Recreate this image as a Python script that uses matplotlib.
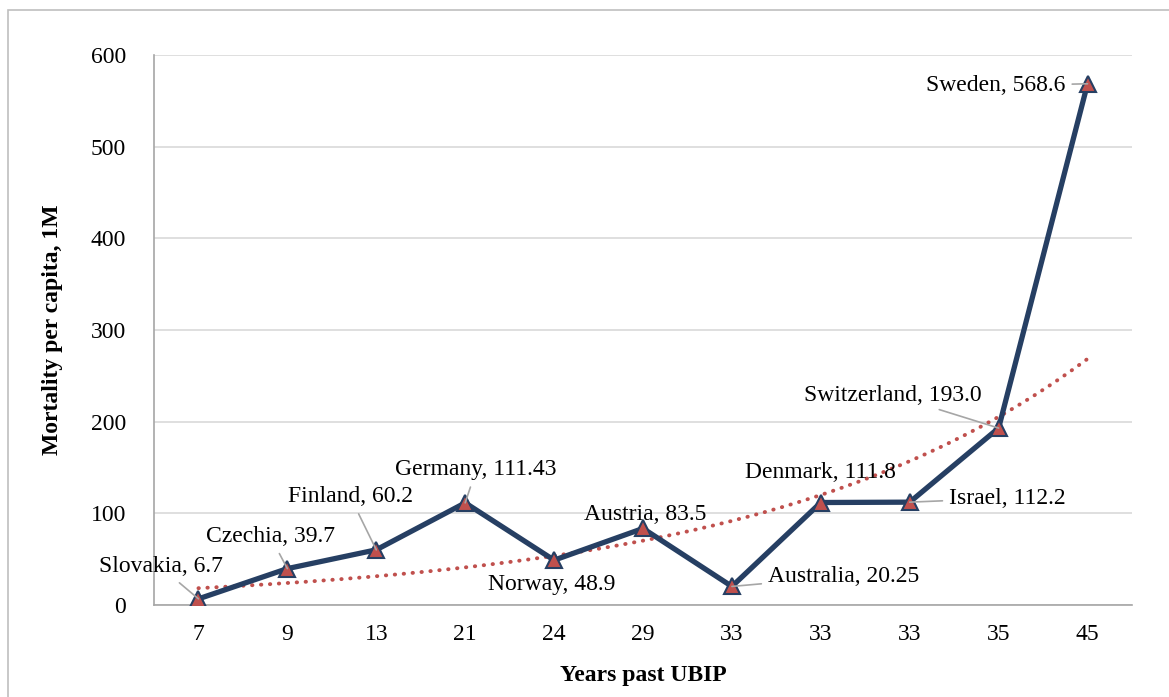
import matplotlib
matplotlib.use("Agg")
import matplotlib.pyplot as plt
from matplotlib.patches import Rectangle
import numpy as np

# data
years = ["7", "9", "13", "21", "24", "29", "33", "33", "33", "35", "45"]
countries = ["Slovakia", "Czechia", "Finland", "Germany", "Norway", "Austria",
             "Australia", "Denmark", "Israel", "Switzerland", "Sweden"]
value_labels = ["6.7", "39.7", "60.2", "111.43", "48.9", "83.5",
                "20.25", "111.8", "112.2", "193.0", "568.6"]
mortality = [6.7, 39.7, 60.2, 111.43, 48.9, 83.5, 20.25, 111.8, 112.2, 193.0, 568.6]

# label offsets from the point, in pixels (dx, dy)
label_offsets = [(-38, 32), (-17, 32), (-26, 53), (11, 33), (-2, -24), (2, 14),
                 (112, 10), (0, 30), (98, 4), (-106, 33), (-92, -2)]
leader = [True, True, True, True, False, False, True, False, True, True, True]

plt.rcParams['font.family'] = ['Liberation Serif', 'DejaVu Serif']

navy = '#263f63'
red = '#c0504d'
fs = 17

fig = plt.figure(figsize=(11.69, 6.97), dpi=100)
ax = fig.add_axes([154 / 1169, 1 - 605 / 697, (1132 - 154) / 1169, (605 - 55) / 697])

x = np.arange(len(years))

# exponential trendline (least squares in log space, like Excel)
b, a = np.polyfit(x + 1, np.log(mortality), 1)
xs = np.linspace(0, len(years) - 1, 200)
ax.plot(xs, np.exp(a + b * (xs + 1)), color=red, lw=2.8, ls=(0, (0.1, 2.2)),
        dash_capstyle='round', zorder=3)

ax.plot(x, mortality, color=navy, lw=3.8, zorder=4)
ax.plot(x, mortality, ls='none', marker='^', ms=12, mfc=red, mec=navy, mew=1.5, zorder=5)

for i in range(len(x)):
    dx, dy = label_offsets[i]
    txt = f"{countries[i]}, {value_labels[i]}"
    if leader[i]:
        ax.annotate(txt, (x[i], mortality[i]), xytext=(dx, dy), textcoords='offset pixels',
                    ha='center', va='center', fontsize=fs,
                    arrowprops=dict(arrowstyle='-', color='#a6a6a6', lw=1.2,
                                    shrinkA=3, shrinkB=0), zorder=6)
    else:
        ax.annotate(txt, (x[i], mortality[i]), xytext=(dx, dy), textcoords='offset pixels',
                    ha='center', va='center', fontsize=fs, zorder=6)

ax.set_xlim(-0.5, len(years) - 0.5)
ax.set_ylim(0, 600)
ax.set_xticks(x)
ax.set_xticklabels(years)
ax.set_yticks(np.arange(0, 601, 100))
ax.tick_params(axis='both', length=0, labelsize=fs)
ax.tick_params(axis='x', pad=14)
ax.tick_params(axis='y', pad=20)
ax.grid(axis='y', color='#d9d9d9', lw=1.2)
ax.set_axisbelow(True)
for s in ['top', 'right']:
    ax.spines[s].set_visible(False)
for s in ['left', 'bottom']:
    ax.spines[s].set_color('#a6a6a6')
    ax.spines[s].set_linewidth(1.2)

ax.set_xlabel("Years past UBIP", fontsize=fs, fontweight='bold', labelpad=14)
ax.set_ylabel("Mortality per capita, 1M", fontsize=fs, fontweight='bold', labelpad=20)

# outer chart border (cut off on right and bottom)
fig.patches.append(Rectangle((8 / 1169, -0.1), 1.2, 1 - 10 / 697 + 0.1, transform=fig.transFigure,
                             fill=False, edgecolor='#bfbfbf', lw=1.2))

fig.savefig("out.png", dpi=100)
